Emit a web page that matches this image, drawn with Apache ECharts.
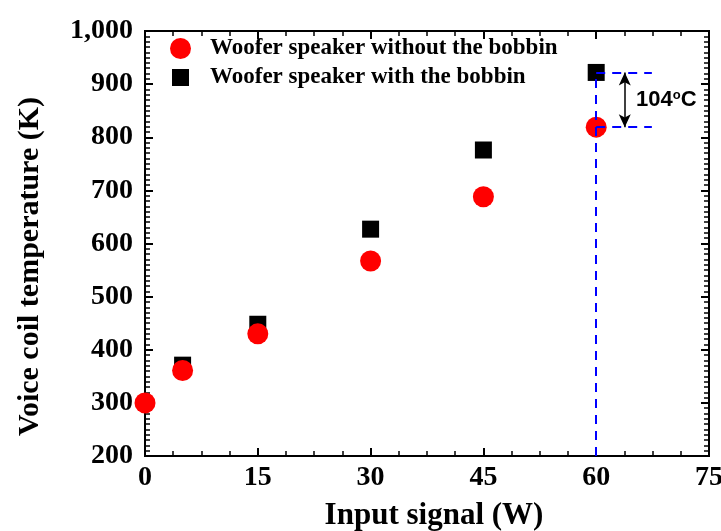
<!DOCTYPE html>
<html lang="en">
  <head>
    <meta charset="UTF-8" />
    <title>voice coil temperature</title>
    <style>
      html, body { margin: 0; padding: 0; background: #fff; }
      #main { width: 721px; height: 531px; }
    </style>
  </head>
  <body>
    <div id="main"></div>
    <script src="https://cdn.jsdelivr.net/npm/echarts@6/dist/echarts.min.js"></script>
    <script>
      // input power (W) and voice coil temperature (K)
      let powerWithout = [0, 5, 15, 30, 45, 60];
      let tempWithout = [300, 361, 430, 567, 688, 819];
      let powerWith = [5, 15, 30, 45, 60];
      let tempWith = [371, 448, 627, 776, 922];
      let xTicks = [0, 15, 30, 45, 60, 75];
      let yTicks = [200, 300, 400, 500, 600, 700, 800, 900, 1000];

      let serif = "Liberation Serif";
      let last = tempWith.length - 1;
      let hi = tempWith[last];
      let lo = tempWithout[tempWithout.length - 1];
      let px = powerWith[last];

      let mchart = echarts.init(document.getElementById("main"));
      let blueDash = { color: "#0000ff", type: [9, 7], width: 2 };
      let legendText = { fontFamily: serif, fontWeight: "bold", fontSize: 23, color: "#000" };

      // inside ticks on all four sides
      let tick = { show: true, inside: true, length: 8, lineStyle: { color: "#000", width: 2 } };
      let minorX = { show: true, splitNumber: 4, length: 5, lineStyle: { color: "#000", width: 1.5 } };
      let minorY = { show: true, splitNumber: 10, length: 5, lineStyle: { color: "#000", width: 1.5 } };
      let line = { show: true, onZero: false, lineStyle: { color: "#000", width: 2 } };

      let option = {
        animation: false,
        grid: {
          left: 145, right: 12, top: 31, bottom: 75,
          outerBoundsMode: "none",
          show: true, borderColor: "#000", borderWidth: 2,
        },
        legend: [
          {
            orient: "vertical",
            left: 165,
            top: 32,
            itemWidth: 21,
            itemHeight: 21,
            data: ["Woofer speaker without the bobbin"],
            textStyle: Object.assign({ padding: [0, 0, 0, 14] }, legendText),
          },
          {
            orient: "vertical",
            left: 167,
            top: 61,
            itemWidth: 17,
            itemHeight: 17,
            data: ["Woofer speaker with the bobbin"],
            textStyle: Object.assign({ padding: [0, 0, 0, 16] }, legendText),
          },
        ],
        xAxis: [
          {
            type: "value",
            min: 0,
            max: 75,
            interval: 15,
            name: "Input signal (W)",
            nameLocation: "middle",
            nameGap: 44,
            nameTextStyle: { fontFamily: serif, fontWeight: "bold", fontSize: 31, color: "#000", padding: [0, 0, 0, 14] },
            axisLine: line,
            axisTick: tick,
            minorTick: minorX,
            axisLabel: { fontFamily: serif, fontWeight: "bold", fontSize: 28, color: "#000", margin: 8,
              formatter: (v) => (xTicks.includes(v) ? String(v) : "") },
            splitLine: { show: false },
          },
          {
            type: "value",
            position: "top",
            min: 0,
            max: 75,
            interval: 15,
            axisLine: line,
            axisTick: tick,
            minorTick: minorX,
            axisLabel: { show: false },
            splitLine: { show: false },
          },
        ],
        yAxis: [
          {
            type: "value",
            min: 200,
            max: 1000,
            interval: 100,
            name: "Voice coil temperature (K)",
            nameLocation: "middle",
            nameGap: 100,
            nameTextStyle: { fontFamily: serif, fontWeight: "bold", fontSize: 30, color: "#000", padding: [0, 46, 0, 0] },
            axisLine: line,
            axisTick: tick,
            minorTick: minorY,
            axisLabel: { fontFamily: serif, fontWeight: "bold", fontSize: 28, color: "#000", margin: 12,
              formatter: (v) => (yTicks.includes(v) ? v.toLocaleString("en-US") : "") },
            splitLine: { show: false },
          },
          {
            type: "value",
            position: "right",
            min: 200,
            max: 1000,
            interval: 100,
            axisLine: line,
            axisTick: tick,
            minorTick: minorY,
            axisLabel: { show: false },
            splitLine: { show: false },
          },
        ],
        series: [
          {
            name: "Woofer speaker with the bobbin",
            type: "scatter",
            symbol: "rect",
            symbolSize: 17,
            itemStyle: { color: "#000", opacity: 1 },
            data: powerWith.map((x, i) => [x, tempWith[i]]),
            z: 2,
            markLine: {
              silent: true,
              symbol: ["none", "none"],
              lineStyle: blueDash,
              label: { show: false },
              data: [
                [{ coord: [px, 200] }, { coord: [px, hi] }],
                [{ coord: [px, hi] }, { coord: [67.4, hi] }],
                [{ coord: [px, lo] }, { coord: [67.4, lo] }],
              ],
            },
          },
          {
            name: "Woofer speaker without the bobbin",
            type: "scatter",
            symbol: "circle",
            symbolSize: 21,
            itemStyle: { color: "#ff0000", opacity: 1 },
            data: powerWithout.map((x, i) => [x, tempWithout[i]]),
            z: 3,
            markLine: {
              silent: true,
              symbol: ["arrow", "arrow"],
              symbolSize: [9, 13],
              lineStyle: { color: "#000", type: "solid", width: 1.5 },
              label: { show: false },
              data: [[{ coord: [63.8, lo] }, { coord: [63.8, hi] }]],
            },
          },
          {
            // keeps the mirror axes alive
            type: "scatter",
            xAxisIndex: 1,
            yAxisIndex: 1,
            data: [],
          },
        ],
      };
      mchart.setOption(option);

      // temperature difference label next to the arrow
      let pos = mchart.convertToPixel({ gridIndex: 0 }, [65.3, (hi + lo) / 2]);
      mchart.setOption({
        graphic: [
          {
            type: "text",
            x: pos[0],
            y: pos[1],
            z: 10,
            style: {
              text: "104{s|o}C",
              fill: "#000",
              font: "bold 22px 'Liberation Sans'",
              verticalAlign: "middle",
              rich: {
                s: { fontFamily: "Liberation Sans", fontSize: 13, fontWeight: "bold", fill: "#000", verticalAlign: "top", padding: [0, 0, 9, 0] },
              },
            },
          },
        ],
      });
    </script>
  </body>
</html>
